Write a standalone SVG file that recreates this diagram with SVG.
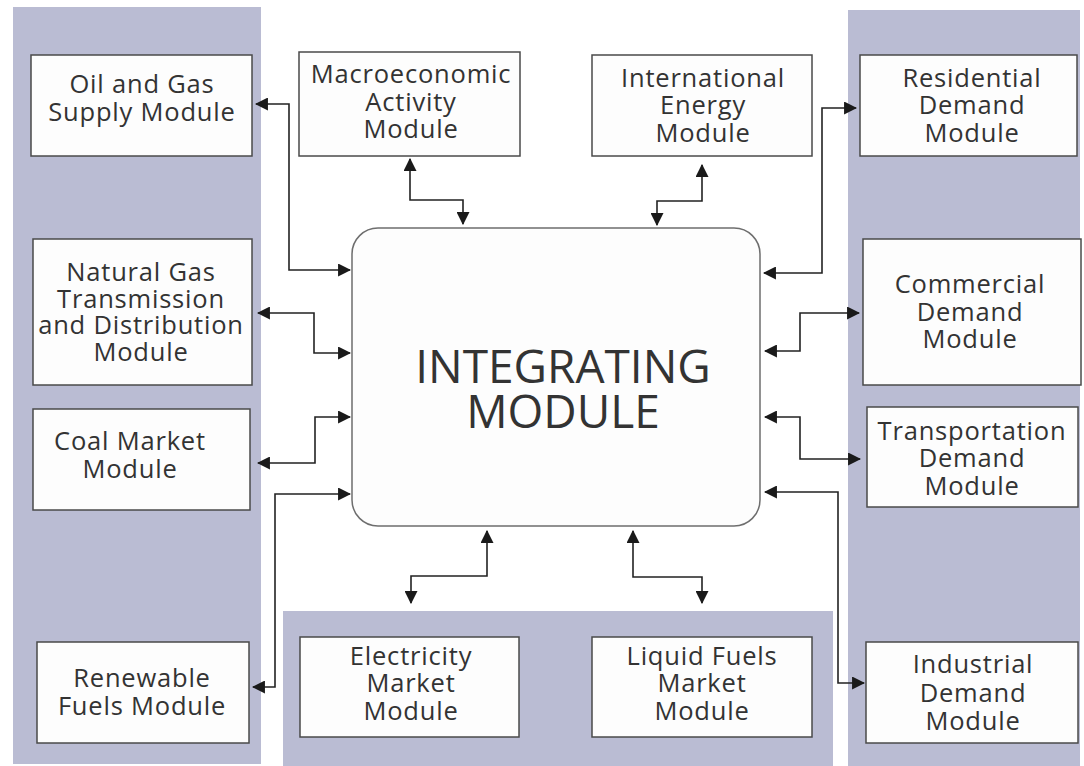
<svg xmlns="http://www.w3.org/2000/svg" width="1084" height="766" viewBox="0 0 1084 766">
  <style>
    .panel { fill: #babcd3; }
    .box { fill: #fdfdfd; stroke: #4a4a4a; stroke-width: 1.5; }
    .hub { fill: #fdfdfd; stroke: #6e6e6e; stroke-width: 1.5; }
    .lbl { font-family: "Open Sans", "Noto Sans", sans-serif; font-size: 25.5px; letter-spacing: 0.8px; fill: #333; text-anchor: middle; }
    .big { font-family: "Open Sans", "Noto Sans", sans-serif; font-size: 46px; fill: #333; text-anchor: middle; }
    .link { fill: none; stroke: #222; stroke-width: 1.6; marker-start: url(#ah); marker-end: url(#ah); }
  </style>
  <defs>
    <marker id="ah" viewBox="0 0 12 12" refX="11" refY="6" markerWidth="13" markerHeight="13" markerUnits="userSpaceOnUse" orient="auto-start-reverse">
      <path d="M0,0 L12,6 L0,12 Z" fill="#1a1a1a"/>
    </marker>
  </defs>

  <rect width="1084" height="766" fill="#ffffff"/>

  <!-- shaded bands behind the module boxes -->
  <g id="bands">
    <rect class="panel" x="13" y="7" width="248" height="757"/>
    <rect class="panel" x="848" y="10" width="232" height="756"/>
    <rect class="panel" x="283" y="611" width="550" height="155"/>
  </g>

  <!-- two-way links to the integrating module -->
  <g id="connectors">
    <path class="link" d="M256,104 H289 V270 H350"/>
    <path class="link" d="M258,313 H314 V353 H350"/>
    <path class="link" d="M258,463 H315 V417 H350"/>
    <path class="link" d="M253,687 H275 V494 H350"/>
    <path class="link" d="M410,159 V200 H463 V224"/>
    <path class="link" d="M702,165 V201 H657 V225"/>
    <path class="link" d="M856,108 H822 V273 H764"/>
    <path class="link" d="M859,313 H800 V351 H765"/>
    <path class="link" d="M765,417 H800 V459 H860"/>
    <path class="link" d="M765,492 H838 V683 H864"/>
    <path class="link" d="M487,531 V576 H411 V603"/>
    <path class="link" d="M633,531 V577 H702 V603"/>
  </g>

  <g id="integrating">
    <rect class="hub" x="352" y="228" width="408" height="298" rx="26"/>
    <text class="big" x="563" y="383">INTEGRATING</text>
    <text class="big" x="563" y="428">MODULE</text>
  </g>

  <g id="oil-gas">
    <rect class="box" x="31" y="55" width="221" height="101"/>
    <text class="lbl" x="142" y="93">Oil and Gas</text>
    <text class="lbl" x="142" y="121">Supply Module</text>
  </g>

  <g id="macro">
    <rect class="box" x="299" y="52" width="221" height="104"/>
    <text class="lbl" x="411" y="83">Macroeconomic</text>
    <text class="lbl" x="411" y="111">Activity</text>
    <text class="lbl" x="411" y="138">Module</text>
  </g>

  <g id="international">
    <rect class="box" x="592" y="55" width="220" height="101"/>
    <text class="lbl" x="703" y="87">International</text>
    <text class="lbl" x="703" y="114">Energy</text>
    <text class="lbl" x="703" y="142">Module</text>
  </g>

  <g id="residential">
    <rect class="box" x="860" y="55" width="217" height="101"/>
    <text class="lbl" x="972" y="87">Residential</text>
    <text class="lbl" x="972" y="114">Demand</text>
    <text class="lbl" x="972" y="142">Module</text>
  </g>

  <g id="natural-gas">
    <rect class="box" x="33" y="239" width="219" height="146"/>
    <text class="lbl" x="141" y="281">Natural Gas</text>
    <text class="lbl" x="141" y="308">Transmission</text>
    <text class="lbl" x="141" y="334">and Distribution</text>
    <text class="lbl" x="141" y="361">Module</text>
  </g>

  <g id="coal">
    <rect class="box" x="33" y="409" width="217" height="101"/>
    <text class="lbl" x="130" y="450">Coal Market</text>
    <text class="lbl" x="130" y="478">Module</text>
  </g>

  <g id="renewable">
    <rect class="box" x="37" y="642" width="212" height="101"/>
    <text class="lbl" x="142" y="687">Renewable</text>
    <text class="lbl" x="142" y="715">Fuels Module</text>
  </g>

  <g id="electricity">
    <rect class="box" x="300" y="637" width="219" height="100"/>
    <text class="lbl" x="411" y="665">Electricity</text>
    <text class="lbl" x="411" y="692">Market</text>
    <text class="lbl" x="411" y="720">Module</text>
  </g>

  <g id="liquid-fuels">
    <rect class="box" x="592" y="637" width="220" height="100"/>
    <text class="lbl" x="702" y="665">Liquid Fuels</text>
    <text class="lbl" x="702" y="692">Market</text>
    <text class="lbl" x="702" y="720">Module</text>
  </g>

  <g id="commercial">
    <rect class="box" x="863" y="239" width="218" height="146"/>
    <text class="lbl" x="970" y="293">Commercial</text>
    <text class="lbl" x="970" y="321">Demand</text>
    <text class="lbl" x="970" y="348">Module</text>
  </g>

  <g id="transportation">
    <rect class="box" x="867" y="407" width="211" height="100"/>
    <text class="lbl" x="972" y="440">Transportation</text>
    <text class="lbl" x="972" y="467">Demand</text>
    <text class="lbl" x="972" y="495">Module</text>
  </g>

  <g id="industrial">
    <rect class="box" x="866" y="642" width="212" height="101"/>
    <text class="lbl" x="973" y="673">Industrial</text>
    <text class="lbl" x="973" y="702">Demand</text>
    <text class="lbl" x="973" y="730">Module</text>
  </g>
</svg>
